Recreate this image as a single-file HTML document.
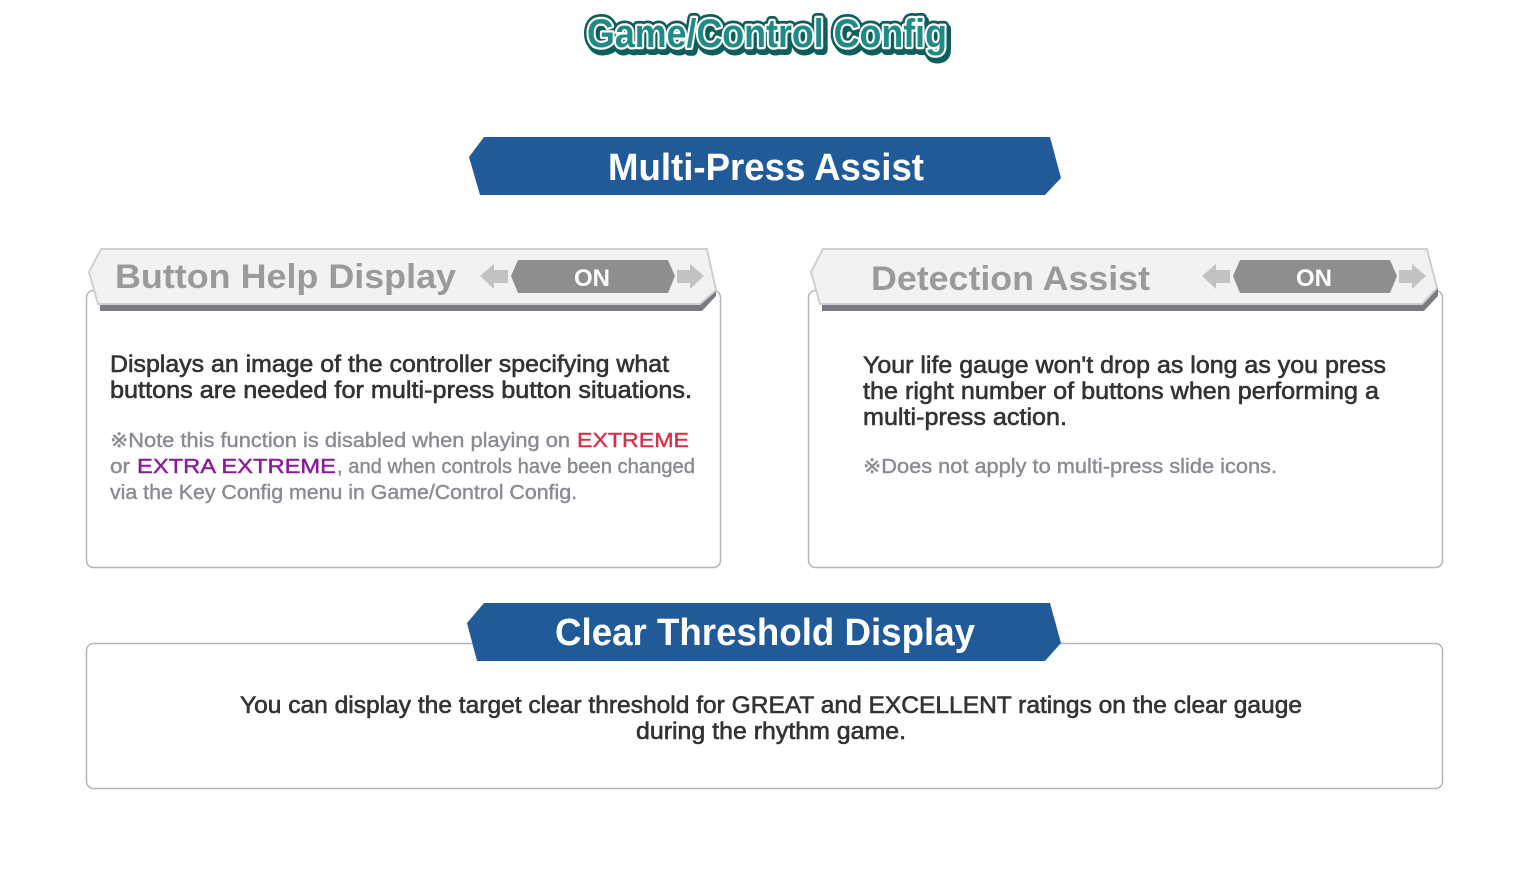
<!DOCTYPE html>
<html><head><meta charset="utf-8"><style>
html,body{margin:0;padding:0;background:#fff;}
svg{display:block;font-family:"Liberation Sans",sans-serif;}
</style></head><body>
<svg width="1530" height="890" viewBox="0 0 1530 890" xmlns="http://www.w3.org/2000/svg">
<!-- title -->
<g font-weight="bold" font-size="40">
<text x="767" y="47" text-anchor="middle" textLength="360" lengthAdjust="spacingAndGlyphs" fill="none" stroke="#0d5e5c" stroke-width="10" stroke-linejoin="round" transform="translate(2,3)">Game/Control Config</text>
<text x="767" y="47" text-anchor="middle" textLength="360" lengthAdjust="spacingAndGlyphs" fill="none" stroke="#0d5e5c" stroke-width="10" stroke-linejoin="round">Game/Control Config</text>
<text x="767" y="47" text-anchor="middle" textLength="360" lengthAdjust="spacingAndGlyphs" fill="none" stroke="#ffffff" stroke-width="4.5" stroke-linejoin="round">Game/Control Config</text>
<text x="767" y="47" text-anchor="middle" textLength="360" lengthAdjust="spacingAndGlyphs" fill="#1f8a86">Game/Control Config</text>
</g>

<!-- banner 1 -->
<polygon points="484,137 1050,137 1061,178 1045,195 480,195 469,157" fill="#215a98"/>
<text x="766" y="180" text-anchor="middle" font-weight="bold" font-size="38" fill="#fff" textLength="316" lengthAdjust="spacingAndGlyphs">Multi-Press Assist</text>

<!-- left panel -->
<rect x="86.5" y="290.5" width="634" height="277" rx="7" fill="#fff" stroke="#b4b4bc" stroke-width="1.5"/>
<polygon points="100,304 700,304 716,288 716,296 702,311 100,311" fill="#7a7a82"/>
<polygon points="101,249 707,249 716,290 700,304 98,304 89,272" fill="#f2f2f2" stroke="#cfcfd3" stroke-width="2"/>
<text x="115" y="288" font-weight="bold" font-size="34" fill="#9a9a9c" textLength="341" lengthAdjust="spacingAndGlyphs">Button Help Display</text>
<polygon points="480,276 494,264 494,270 508,270 508,283 494,283 494,289" fill="#c2c2c4"/>
<polygon points="518,260 668,260 675,276 668,293 518,293 511,276" fill="#8e8e90"/>
<text x="592" y="286" text-anchor="middle" font-weight="bold" font-size="24" fill="#fff">ON</text>
<polygon points="704,276 690,264 690,270 677,270 677,283 690,283 690,289" fill="#c2c2c4"/>

<g font-size="24" fill="#333" stroke="#333" stroke-width="0.6">
<text x="110" y="372" textLength="559" lengthAdjust="spacingAndGlyphs">Displays an image of the controller specifying what</text>
<text x="110" y="398" textLength="582" lengthAdjust="spacingAndGlyphs">buttons are needed for multi-press button situations.</text>
</g>
<g font-size="20" fill="#8a8a92" stroke-width="0.4">
<text x="110" y="447" stroke="#8a8a92" textLength="460" lengthAdjust="spacingAndGlyphs">※Note this function is disabled when playing on</text>
<text x="577" y="447" fill="#d8304a" stroke="#d8304a" textLength="112" lengthAdjust="spacingAndGlyphs">EXTREME</text>
<text x="110" y="473" stroke="#8a8a92" textLength="20" lengthAdjust="spacingAndGlyphs">or</text>
<text x="137" y="473" fill="#8a1a9a" stroke="#8a1a9a" textLength="199" lengthAdjust="spacingAndGlyphs">EXTRA EXTREME</text>
<text x="337" y="473" stroke="#8a8a92" textLength="358" lengthAdjust="spacingAndGlyphs">, and when controls have been changed</text>
<text x="110" y="499" stroke="#8a8a92" textLength="467" lengthAdjust="spacingAndGlyphs">via the Key Config menu in Game/Control Config.</text>
</g>

<!-- right panel -->
<rect x="808.5" y="290.5" width="634" height="277" rx="7" fill="#fff" stroke="#b4b4bc" stroke-width="1.5"/>
<polygon points="822,304 1422,304 1438,288 1438,296 1424,311 822,311" fill="#7a7a82"/>
<polygon points="823,249 1427,249 1437,288 1422,304 820,304 811,272" fill="#f2f2f2" stroke="#cfcfd3" stroke-width="2"/>
<text x="871" y="290" font-weight="bold" font-size="34" fill="#9a9a9c" textLength="279" lengthAdjust="spacingAndGlyphs">Detection Assist</text>
<polygon points="1202,276 1216,264 1216,270 1230,270 1230,283 1216,283 1216,289" fill="#c2c2c4"/>
<polygon points="1240,260 1390,260 1397,276 1390,293 1240,293 1233,276" fill="#8e8e90"/>
<text x="1314" y="286" text-anchor="middle" font-weight="bold" font-size="24" fill="#fff">ON</text>
<polygon points="1426,276 1412,264 1412,270 1399,270 1399,283 1412,283 1412,289" fill="#c2c2c4"/>

<g font-size="24" fill="#333" stroke="#333" stroke-width="0.6">
<text x="863" y="373" textLength="523" lengthAdjust="spacingAndGlyphs">Your life gauge won't drop as long as you press</text>
<text x="863" y="399" textLength="516" lengthAdjust="spacingAndGlyphs">the right number of buttons when performing a</text>
<text x="863" y="425" textLength="204" lengthAdjust="spacingAndGlyphs">multi-press action.</text>
</g>
<text x="863" y="473" font-size="20" fill="#8a8a92" stroke="#8a8a92" stroke-width="0.4" textLength="414" lengthAdjust="spacingAndGlyphs">※Does not apply to multi-press slide icons.</text>

<!-- bottom panel -->
<rect x="86.5" y="643.5" width="1356" height="145" rx="7" fill="#fff" stroke="#b4b4bc" stroke-width="1.5"/>
<polygon points="484,603 1050,603 1061,643 1045,661 477,661 467,623" fill="#215a98"/>
<text x="765" y="645" text-anchor="middle" font-weight="bold" font-size="38" fill="#fff" textLength="420" lengthAdjust="spacingAndGlyphs">Clear Threshold Display</text>
<g font-size="24" fill="#333" stroke="#333" stroke-width="0.6">
<text x="240" y="713" textLength="1062" lengthAdjust="spacingAndGlyphs">You can display the target clear threshold for GREAT and EXCELLENT ratings on the clear gauge</text>
<text x="636" y="739" textLength="270" lengthAdjust="spacingAndGlyphs">during the rhythm game.</text>
</g>
</svg>
</body></html>
